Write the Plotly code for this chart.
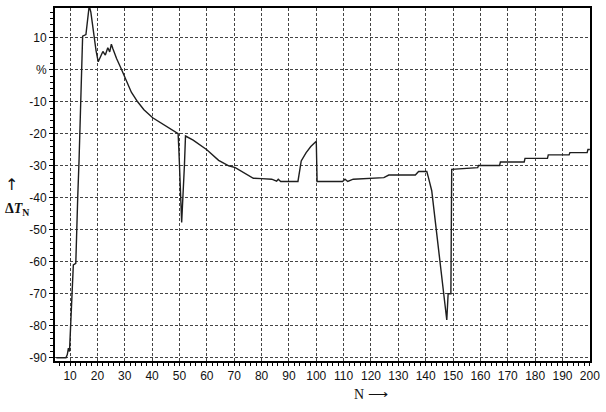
import plotly.graph_objects as go

N_vals = [5, 8.5, 9.0, 9.4, 9.8, 10.4, 10.9, 11.2, 12.1, 12.4, 12.8, 13.3, 13.8, 14.6, 15.8, 16.2,
          17.0, 17.6, 18.5, 19.5, 20.3, 21.0, 22.0, 22.9, 23.8, 24.5, 25.1, 25.7, 27.0, 28.7, 30.5,
          32.4, 34.7, 37, 40.2, 43, 46, 48, 49.5, 49.8, 50.8, 51.8, 52.2, 55, 60, 64.3, 68, 70.4,
          74, 77, 80, 83.7, 85.5, 86.1, 87, 93.3, 94.5, 96.3, 98, 100, 100.3, 109.6, 110.5, 111.5,
          113.5, 118.7, 124.7, 126.5, 136.2, 137.4, 140.4, 141, 142.2, 147.7, 148.2, 149.2, 149.5,
          159.0, 159.3, 167, 167.3, 176, 176.3, 184.5, 184.8, 192.4, 192.7, 199, 199.3, 200]
dT_vals = [-90, -90, -89, -87, -88, -77, -68, -61, -60.5, -49, -40, -28, -15, 10.5, 11, 14,
           20, 18, 12, 6, 2.5, 4, 5.7, 4.6, 6.9, 5.6, 8, 6.5, 3.5, 0.3, -3.5,
           -7, -10, -12.5, -15, -16.5, -18, -19, -20, -25.5, -47.7, -30, -20.7, -22, -25, -28.3, -30, -30.6,
           -32.5, -33.9, -34, -34.2, -34.8, -34.2, -34.9, -34.9, -28.5, -25.9, -24, -22.3, -34.9, -34.9, -34.2, -34.9,
           -34.2, -33.9, -33.7, -32.9, -32.9, -31.8, -31.8, -33.7, -37.8, -78.2, -70, -70, -31.1,
           -30.6, -29.9, -29.9, -28.8, -28.8, -27.7, -27.7, -26.6, -26.6, -25.9, -25.9, -24.9, -24.9]

x_ticks = list(range(10, 201, 10))
y_ticks = [10, 0, -10, -20, -30, -40, -50, -60, -70, -80, -90]
y_tick_text = ["10", "%", "-10", "-20", "-30", "-40", "-50", "-60", "-70", "-80", "-90"]

fig = go.Figure()
fig.add_trace(go.Scatter(x=N_vals, y=dT_vals, mode="lines",
                         line=dict(color="#1e1e1e", width=1.4), showlegend=False))

tick_font = dict(family="Liberation Sans, Arial, sans-serif", size=12, color="#111")
grid_common = dict(showgrid=True, gridcolor="#444", gridwidth=1, griddash="3px,2px",
                   showline=True, linecolor="black", linewidth=2, mirror=True,
                   tickcolor="black", tickfont=tick_font,
                   zeroline=False, ticklabeloverflow="allow")

fig.update_xaxes(range=[4.5, 200.05], tickvals=x_ticks, ticks="outside", ticklen=3,
                 **grid_common,
                 minor=dict(dtick=2, tick0=0, ticks="outside", ticklen=3, tickcolor="black", showgrid=False))
fig.update_yaxes(range=[-91, 19.3], tickvals=y_ticks, ticktext=y_tick_text, ticks="outside", ticklen=4,
                 **grid_common,
                 minor=dict(dtick=2, tick0=0, ticks="outside", ticklen=3, tickcolor="black", showgrid=False))

fig.add_annotation(text="↑", xref="paper", yref="paper", x=-0.081, y=0.50,
                   xanchor="center", yanchor="middle",
                   showarrow=False, font=dict(family="DejaVu Sans", size=16, color="#111"))
fig.add_annotation(text="<b>Δ<i>T</i><sub>N</sub></b>", xref="paper", yref="paper", x=-0.098, y=0.43,
                   xanchor="left", yanchor="middle",
                   showarrow=False, font=dict(family="Liberation Serif", size=14, color="#111"))
fig.add_annotation(text="N ⟶", xref="paper", yref="paper", x=0.59, y=-0.096,
                   xanchor="center", yanchor="middle",
                   showarrow=False, font=dict(family="Liberation Serif", size=14, color="#111"))

fig.update_layout(width=606, height=412, margin=dict(l=55, r=10, t=6, b=51),
                  paper_bgcolor="white", plot_bgcolor="white")
fig.write_html("out.html", config={"displayModeBar": False},
               post_script="document.body.style.margin='0px';")
